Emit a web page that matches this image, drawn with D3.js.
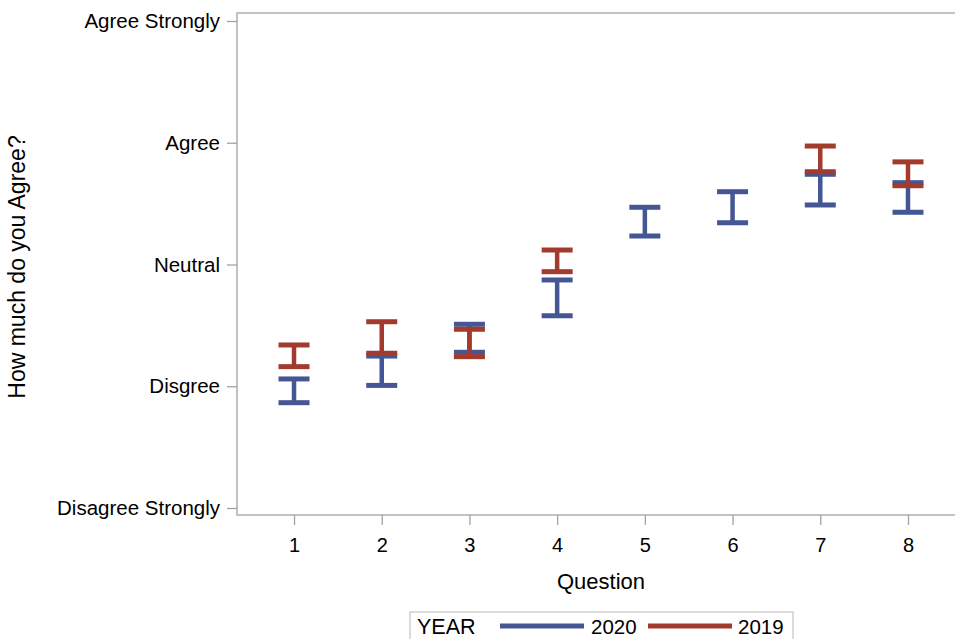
<!DOCTYPE html>
<html>
<head>
<meta charset="utf-8">
<script src="https://cdn.jsdelivr.net/npm/d3@7"></script>
<style>
  html, body { margin: 0; padding: 0; background: #fff; }
  svg { display: block; font-family: "Liberation Sans", Arial, sans-serif; }
</style>
</head>
<body>
<svg id="chart" width="955" height="639"></svg>
<script>
// Questions and the interval (low/high) of agreement for each survey year
const questions = [1, 2, 3, 4, 5, 6, 7, 8];
const low2020  = [1.865, 2.007, 2.279, 2.579, 3.234, 3.343, 3.489, 3.429];
const high2020 = [2.060, 2.248, 2.509, 2.873, 3.470, 3.598, 3.741, 3.672];
const low2019  = [2.161, 2.271, 2.243, 2.941, null, null, 3.762, 3.647];
const high2019 = [2.339, 2.530, 2.468, 3.119, null, null, 3.973, 3.843];

const levelValues = [1, 2, 3, 4, 5];
const levelLabels = ["Disagree Strongly", "Disgree", "Neutral", "Agree", "Agree Strongly"];

const years = ["2020", "2019"];
const yearColors = ["#445694", "#A23A2E"];

const svg = d3.select("#chart");

const frame = { left: 237, right: 965, top: 13, bottom: 515 };

const x = d3.scaleLinear().domain([0.35, 8.65]).range([frame.left, frame.right]);
const y = d3.scaleLinear().domain([1, 5]).range([508, 21]);

const axisGrey = "#a3a3a3";
const fontFamily = "Liberation Sans, Arial, sans-serif";

// plot frame
svg.append("rect")
  .attr("x", frame.left).attr("y", frame.top)
  .attr("width", frame.right - frame.left).attr("height", frame.bottom - frame.top)
  .attr("fill", "none").attr("stroke", axisGrey).attr("stroke-width", 1.3);

// y axis
const yAxis = d3.axisLeft(y)
  .tickValues(levelValues)
  .tickFormat((d, i) => levelLabels[i])
  .tickSize(10).tickPadding(7);
const gy = svg.append("g").attr("transform", `translate(${frame.left},0)`).call(yAxis);
gy.select(".domain").remove();
gy.selectAll(".tick line").attr("stroke", axisGrey).attr("stroke-width", 1.3);
gy.selectAll(".tick text").attr("fill", "#000").style("font-size", "20.5px").style("font-family", fontFamily);

// x axis
const xAxis = d3.axisBottom(x).tickValues(questions).tickFormat(d3.format("d")).tickSize(10).tickPadding(13);
const gx = svg.append("g").attr("transform", `translate(0,${frame.bottom})`).call(xAxis);
gx.select(".domain").remove();
gx.selectAll(".tick line").attr("stroke", axisGrey).attr("stroke-width", 1.3);
gx.selectAll(".tick text").attr("fill", "#000").style("font-size", "20px").style("font-family", fontFamily);

// axis titles
svg.append("text")
  .attr("x", (frame.left + frame.right) / 2).attr("y", 589)
  .attr("text-anchor", "middle").style("font-size", "22px").text("Question");
svg.append("text")
  .attr("transform", `translate(25,${267}) rotate(-90)`)
  .attr("text-anchor", "middle").style("font-size", "23px").text("How much do you Agree?");

// error bars
const capHalf = 15.5;
const barWidth = 5;
function drawBars(lows, highs, color) {
  const rows = questions.map((q, i) => ({ q, lo: lows[i], hi: highs[i] })).filter(d => d.lo != null);
  const g = svg.append("g").attr("stroke", color).attr("stroke-width", barWidth).attr("fill", "none");
  rows.forEach(d => {
    const cx = x(d.q);
    g.append("line").attr("x1", cx).attr("x2", cx).attr("y1", y(d.lo)).attr("y2", y(d.hi)).attr("stroke-width", 4.5);
    g.append("line").attr("x1", cx - capHalf).attr("x2", cx + capHalf).attr("y1", y(d.hi)).attr("y2", y(d.hi));
    g.append("line").attr("x1", cx - capHalf).attr("x2", cx + capHalf).attr("y1", y(d.lo)).attr("y2", y(d.lo));
  });
}
drawBars(low2020, high2020, yearColors[0]);
drawBars(low2019, high2019, yearColors[1]);

// legend
const lg = svg.append("g");
lg.append("rect").attr("x", 410).attr("y", 612).attr("width", 383).attr("height", 40)
  .attr("fill", "#fff").attr("stroke", "#c8c8c8").attr("stroke-width", 1.3);
lg.append("text").attr("x", 417).attr("y", 634).style("font-size", "21.5px").text("YEAR");
const entries = [{ x1: 500, x2: 584, tx: 591 }, { x1: 648, x2: 732, tx: 738 }];
entries.forEach((e, i) => {
  lg.append("line").attr("x1", e.x1).attr("x2", e.x2).attr("y1", 626).attr("y2", 626)
    .attr("stroke", yearColors[i]).attr("stroke-width", 5);
  lg.append("text").attr("x", e.tx).attr("y", 634).style("font-size", "20.5px").text(years[i]);
});
</script>
</body>
</html>
